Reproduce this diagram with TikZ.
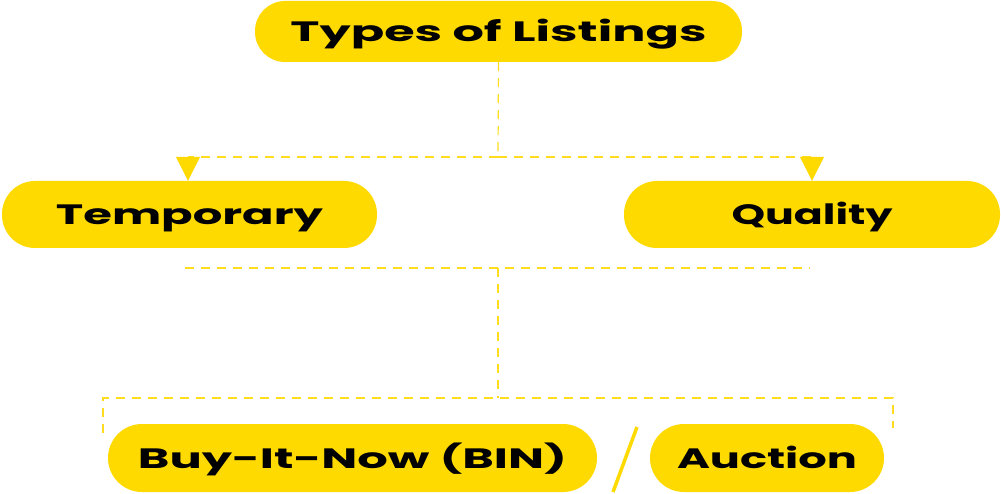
\documentclass[tikz,border=0pt]{standalone}
\usepackage{fontspec}
\setmainfont{Poppins}
\usepackage{graphicx}
\usetikzlibrary{arrows.meta}
\definecolor{ylw}{RGB}{255,218,0}
\definecolor{ylwl}{RGB}{255,220,30}
\newcommand\lbl[2]{\resizebox{#1}{\height}{\bfseries #2}}
\begin{document}
\begin{tikzpicture}[x=1pt,y=-1pt,
  pill/.style={fill=ylw,rounded corners=#1,inner sep=0pt,text depth=0pt,text height=20pt,
    font=\fontsize{28}{28}\selectfont},
  pill/.default=30pt,
  dline/.style={draw=ylwl,line width=1.2pt,dash pattern=on 9pt off 7pt},
  tri/.style={-{Triangle[length=24pt,width=24pt,fill=ylw,color=ylw]}}
]
\useasboundingbox (0,0) rectangle (1001,494);
% nodes
\node[pill, minimum width=487pt, minimum height=61pt] (title) at (498.5,31.5) {\lbl{416pt}{Types of Listings}};
\node[pill=33pt, minimum width=375pt, minimum height=67pt] (temp) at (189.5,214.5) {\lbl{267pt}{Temporary}};
\node[pill=33pt, minimum width=376pt, minimum height=67pt] (qual) at (812,214.5) {\lbl{161pt}{Quality}};
\node[pill=34pt, minimum width=489pt, minimum height=68pt] (bin) at (352.5,458) {\lbl{429pt}{Buy-It-Now (BIN)}};
\node[pill=34pt, minimum width=234pt, minimum height=68pt] (auc) at (767,458) {\lbl{180pt}{Auction}};
% slash
\coordinate (s1) at (637,427);
\coordinate (s2) at (613,492);
\draw[ylw,line width=3.5pt] (s1) -- (s2);
% top connectors
\coordinate (j1) at (498,157);
\coordinate (lt) at (188,157);
\coordinate (rt) at (812,157);
\draw[dline] (title.south) -- (j1);
\draw[dline] (j1) -- (lt);
\draw[dline] (j1) -- (rt);
\draw[dline,tri] (lt) -- (temp.north -| lt);
\draw[dline,tri] (rt) -- (qual.north -| rt);
% bottom connectors
\coordinate (h1) at (185,268);
\coordinate (h2) at (810,268);
\coordinate (j2) at (498,268);
\coordinate (j3) at (498,398);
\coordinate (b1) at (103,398);
\coordinate (b2) at (893,398);
\coordinate (b1e) at (103,433);
\coordinate (b2e) at (893,428);
\draw[dline] (h1) -- (h2);
\draw[dline] (j2) -- (j3);
\draw[dline] (b1e) -- (b1) -- (b2) -- (b2e);
\end{tikzpicture}
\end{document}
